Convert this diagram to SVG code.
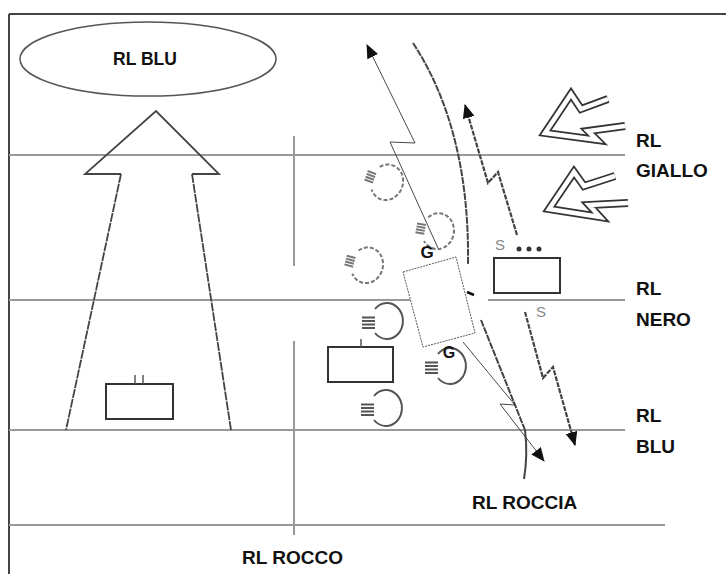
<svg xmlns="http://www.w3.org/2000/svg" width="726" height="574" viewBox="0 0 726 574">
<style>
.bg{fill:#fff}
.frame{stroke:#444;stroke-width:2;fill:none}
.grid{stroke:#999;stroke-width:2;fill:none}
.box{stroke:#333;stroke-width:2;fill:#fff}
.tick{stroke:#555;stroke-width:1.5}
.thin{stroke:#333;stroke-width:0.9;fill:none}
.bolt{stroke:#444;stroke-width:2.2;stroke-dasharray:5 1.2;fill:none}
.arc{stroke:#444;stroke-width:2;stroke-dasharray:7 1;fill:none}
.coil{stroke:#555;stroke-width:2;fill:none}
.dcoil{stroke:#777;stroke-width:2;fill:none;stroke-dasharray:4 2}
.lbl{font-family:"Liberation Sans",Arial,sans-serif;font-weight:bold;fill:#111}
.s{font-family:"Liberation Sans",Arial,sans-serif;fill:#888;font-size:15px}
.dbl-o{stroke:#333;stroke-width:8;fill:none;stroke-linejoin:miter;stroke-miterlimit:10}
.dbl-i{stroke:#fff;stroke-width:4.5;fill:none;stroke-linejoin:miter;stroke-miterlimit:10}
</style>
<defs>
<marker id="tri" viewBox="0 0 14 12" refX="13" refY="6" markerWidth="14" markerHeight="12" markerUnits="userSpaceOnUse" orient="auto">
<path d="M0,0 L14,6 L0,12 z" fill="#111"/>
</marker>
<g id="coilS">
<path d="M-11,-12 A16,18 0 1 1 -11,12"/>
<path d="M-24,-3.5 H-11 M-24,0 H-11 M-24,3.5 H-11 M-24,7 H-11"/>
</g>
<g id="coilD">
<path d="M-11,-12 A16,18 0 1 1 -11,12"/>
<path d="M-21,-4 H-12 M-21,-1 H-12 M-21,2 H-12 M-21,5 H-12" stroke-dasharray="none"/>
</g>
</defs>
<rect class="bg" x="0" y="0" width="726" height="574"/>

<g id="frame">
<path class="frame" d="M9,14 H726 M9,14 V574"/>
</g>

<g id="levels">
<path class="grid" d="M9,155 H625 M9,300 H410 M488,300 H625 M9,430 H625 M9,525 H665"/>
<path class="grid" d="M294,136 V266 M294,341 V535"/>
</g>

<g id="ellipse-blu">
<ellipse cx="148" cy="59" rx="128" ry="37" fill="none" stroke="#555" stroke-width="1.5"/>
<text class="lbl" x="145" y="65" font-size="17.5" text-anchor="middle">RL BLU</text>
</g>

<g id="big-arrow" fill="none" stroke="#444" stroke-width="1.8">
<path d="M121,174 H85 L156,111 L219,174 H192"/>
<path d="M121,174 L66,430 M192,174 L231,430" stroke-dasharray="9 1"/>
</g>

<g id="box-left">
<rect class="box" x="106" y="384" width="67" height="35"/>
<path class="tick" d="M135,375 V384 M143,375 V384"/>
</g>

<g id="box-mid">
<rect class="box" x="328" y="347" width="65" height="35"/>
<path class="tick" d="M361,339 V347"/>
</g>

<g id="box-right">
<rect class="box" x="494" y="258" width="66" height="35"/>
</g>

<g id="coils">
<use href="#coilD" class="dcoil" transform="translate(386,182) rotate(20)"/>
<use href="#coilD" class="dcoil" transform="translate(437,231) rotate(10)"/>
<use href="#coilD" class="dcoil" transform="translate(366,265) rotate(15)"/>
<use href="#coilS" class="coil" transform="translate(386,321)"/>
<use href="#coilS" class="coil" transform="translate(449,366)"/>
<use href="#coilS" class="coil" transform="translate(385,408)"/>
</g>

<g id="arc">
<path class="arc" d="M413,43 Q470,130 468,265"/>
<path class="arc" d="M481,320 L525,430"/>
<path d="M525,430 Q528,455 524,479" stroke="#444" stroke-width="2" fill="none"/>
</g>

<g id="connectors">
<path class="thin" d="M438,248 L390,142 L415,143 L367,45" marker-end="url(#tri)"/>
<path class="thin" d="M463,342 L515,405 L500,404 L544,461" marker-end="url(#tri)"/>
<path class="bolt" d="M517,235 L498,172 L488,183 L465,105" marker-end="url(#tri)"/>
<path class="bolt" d="M525,312 L543,378 L553,367 L575,445" marker-end="url(#tri)"/>
</g>

<g id="rotated-box">
<polygon points="403,272 456,257 475,333 423,347" fill="#fff" stroke="#444" stroke-width="0.9" stroke-dasharray="2 1"/>
<path d="M467,292 L474,295" stroke="#111" stroke-width="2.5"/>
<text class="lbl" x="427" y="258" font-size="17" text-anchor="middle">G</text>
<text class="lbl" x="449" y="358" font-size="16" text-anchor="middle">G</text>
</g>

<g id="s-labels">
<text class="s" x="500" y="250" text-anchor="middle">S</text>
<circle cx="519" cy="249" r="2.5" fill="#333"/>
<circle cx="529" cy="249" r="2.5" fill="#333"/>
<circle cx="539" cy="249" r="2.5" fill="#333"/>
<text class="s" x="541" y="317" text-anchor="middle">S</text>
</g>

<g id="radiation">
<path class="dbl-o" d="M608,99 L581,109 L571,94 L545,133 L597,140 L588,131 L625,126"/>
<path class="dbl-i" d="M608,99 L581,109 L571,94 L545,133 L597,140 L588,131 L625,126"/>
<path class="dbl-o" d="M615,176 L584,186 L574,172 L549,209 L600,217 L589,205 L628,203"/>
<path class="dbl-i" d="M615,176 L584,186 L574,172 L549,209 L600,217 L589,205 L628,203"/>
</g>

<g id="labels">
<text class="lbl" x="636" y="147" font-size="19">RL</text>
<text class="lbl" x="636" y="177" font-size="19">GIALLO</text>
<text class="lbl" x="636" y="295" font-size="19">RL</text>
<text class="lbl" x="636" y="326" font-size="19">NERO</text>
<text class="lbl" x="636" y="422" font-size="19">RL</text>
<text class="lbl" x="636" y="453" font-size="19">BLU</text>
<text class="lbl" x="472" y="509" font-size="19">RL ROCCIA</text>
<text class="lbl" x="242" y="564" font-size="19">RL ROCCO</text>
</g>
</svg>
